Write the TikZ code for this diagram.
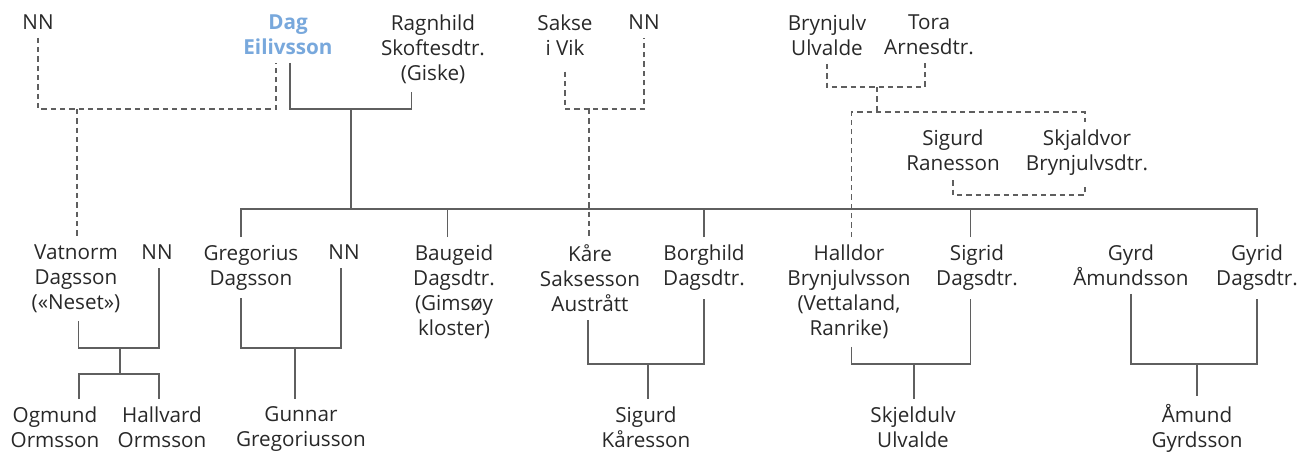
\documentclass[tikz,border=0pt]{standalone}
\usepackage{fontspec}
\setmainfont{Open Sans}
\usetikzlibrary{calc}
\definecolor{ink}{RGB}{40,40,40}
\definecolor{wire}{RGB}{95,95,95}
\definecolor{dagblue}{RGB}{120,168,220}

\begin{document}
\begin{tikzpicture}[x=0.75pt,y=-0.75pt,
  person/.style={inner sep=0pt,outer ysep=6pt,align=center,anchor=north,
    text=ink,font=\fontsize{15.5}{18.75}\selectfont},
  wed/.style={wire,line width=1.1pt},
  guess/.style={wed,dash pattern=on 4pt off 3pt}]
\useasboundingbox (0,0) rectangle (1308,451);

% first generation
\node[person] (nnA) at (38,7) {NN};
\node[person,text=dagblue,font=\fontsize{15.5}{18.75}\selectfont\bfseries] (dag) at (288,7) {Dag\\Eilivsson};
\node[person] (ragnhild) at (433,7) {Ragnhild\\Skoftesdtr.\\(Giske)};
\node[person] (sakse) at (565,7) {Sakse\\i Vik};
\node[person] (nnB) at (644,7) {NN};
\node[person] (brynjulv) at (827,7) {Brynjulv\\Ulvalde};
\node[person] (tora) at (929,7) {Tora\\Arnesdtr.};
\node[person] (sigurdR) at (953,122) {Sigurd\\Ranesson};
\node[person] (skjaldvor) at (1087,122) {Skjaldvor\\Brynjulvsdtr.};

% Dag's children and their spouses
\node[person] (vatnorm) at (76,237) {Vatnorm\\Dagsson\\(«Neset»)};
\node[person] (nnC) at (157,237) {NN};
\node[person] (gregorius) at (251,237) {Gregorius\\Dagsson};
\node[person] (nnD) at (344,237) {NN};
\node[person] (baugeid) at (454,237) {Baugeid\\Dagsdtr.\\(Gimsøy\\kloster)};
\node[person] (kare) at (590,237) {Kåre\\Saksesson\\Austrått};
\node[person] (borghild) at (704,237) {Borghild\\Dagsdtr.};
\node[person] (halldor) at (849,237) {Halldor\\Brynjulvsson\\(Vettaland,\\Ranrike)};
\node[person] (sigrid) at (977,237) {Sigrid\\Dagsdtr.};
\node[person] (gyrd) at (1131,237) {Gyrd\\Åmundsson};
\node[person] (gyrid) at (1257,237) {Gyrid\\Dagsdtr.};

% grandchildren
\node[person] (ogmund) at (55,399) {Ogmund\\Ormsson};
\node[person] (hallvard) at (162,399) {Hallvard\\Ormsson};
\node[person] (gunnar) at (301,399) {Gunnar\\Gregoriusson};
\node[person] (sigurdK) at (646,399) {Sigurd\\Kåresson};
\node[person] (skjeldulv) at (913,399) {Skjeldulv\\Ulvalde};
\node[person] (amund) at (1197,396) {Åmund\\Gyrdsson};

% junctions
\coordinate (u1) at (77,109);
\coordinate (u2) at (351,109);
\coordinate (kids) at (351,209);
\coordinate (u3) at (589,109);
\coordinate (u4) at (877,87);
\coordinate (u5) at (877,112);
\coordinate (u6) at (1020,195);
\coordinate (u7) at (120,348);
\coordinate (u8) at (120,374);
\coordinate (u9) at (295,348);
\coordinate (u10) at (648,364);
\coordinate (u11) at (914,364);
\coordinate (u12) at (1197,364);

% uncertain links
\draw[guess] (nnA.south) |- (u1) -| ([xshift=-9pt]dag.south);
\draw[guess] (u1) -- (u1 |- vatnorm.north);
\draw[guess] ([yshift=-6pt]sakse.south) |- (u3) -| (nnB.south);
\draw[guess] (u3) -- (u3 |- kare.north);
\draw[guess] (brynjulv.south) |- (u4) -| ([xshift=-3pt]tora.south);
\draw[guess] (u4) -- (u5);
\draw[guess] ([xshift=2pt]halldor.north) |- (u5) -| ([xshift=-1.5pt]skjaldvor.north);
\draw[guess] ([yshift=-1pt]sigurdR.south) |- (u6) -| ([xshift=-1.5pt]skjaldvor.south);

% Dag and Ragnhild
\draw[wed] ([xshift=1.5pt]dag.south) |- (u2) -| ([xshift=-16pt]ragnhild.south);
\draw[wed] (u2) -- (kids);
\draw[wed] ([xshift=-7.5pt]gregorius.north) |- (kids) -| (gyrid.north);
\foreach \k/\s in {baugeid/-5pt,borghild/0pt,sigrid/-5pt}
  \draw[wed] ([xshift=\s]\k.north) -- ([xshift=\s]\k.north |- kids);

% next generation
\draw[wed] ([xshift=2pt]vatnorm.south) |- (u7) -| ([xshift=1.5pt]nnC.south);
\draw[wed] (u7) -- (u8);
\draw[wed] ([xshift=18pt]ogmund.north) |- (u8) -| ([xshift=-2.25pt]hallvard.north);
\draw[wed] ([xshift=-7.5pt]gregorius.south) |- (u9) -| ([xshift=-2.25pt]nnD.south);
\draw[wed] (u9) -- (u9 |- gunnar.north);
\draw[wed] ([xshift=-1.5pt]kare.south) |- (u10) -| (borghild.south);
\draw[wed] (u10) -- (u10 |- sigurdK.north);
\draw[wed] ([xshift=2pt]halldor.south) |- (u11) -| ([xshift=-5pt]sigrid.south);
\draw[wed] (u11) -- (u11 |- skjeldulv.north);
\draw[wed] (gyrd.south) |- (u12) -| (gyrid.south);
\draw[wed] (u12) -- (u12 |- amund.north);

\end{tikzpicture}
\end{document}
